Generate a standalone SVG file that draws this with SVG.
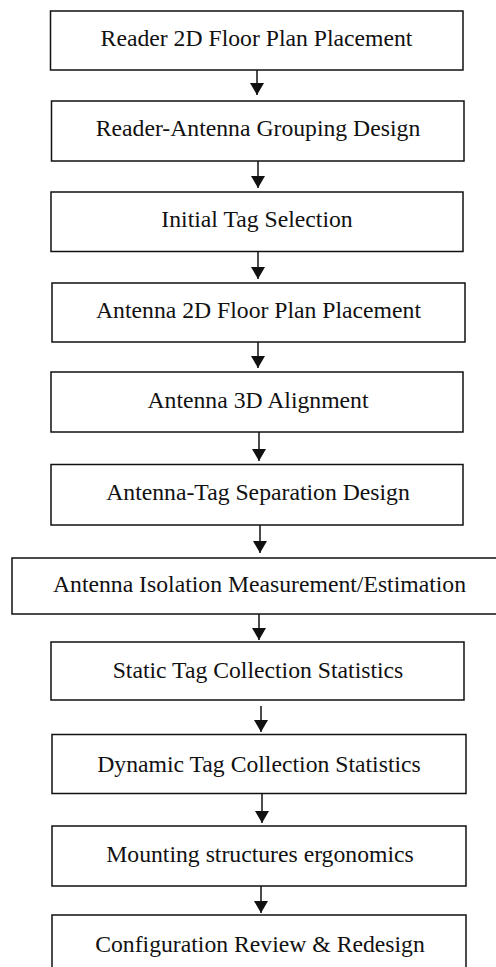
<svg xmlns="http://www.w3.org/2000/svg" width="496" height="967" viewBox="0 0 496 967">
<style>
.box{fill:#fff;stroke:#111;stroke-width:1.5}
.lbl{font-family:"Liberation Serif","Times New Roman",serif;font-size:23.7px;fill:#111;text-anchor:middle}
.conn{stroke:#111;stroke-width:1.5;fill:none}
</style>
<defs>
<marker id="ah" markerUnits="userSpaceOnUse" markerWidth="14" markerHeight="13" refX="7" refY="12" orient="auto-start-reverse" viewBox="0 0 14 13">
<path d="M0,0 L14,0 L7,12 Z" fill="#111"/>
</marker>
</defs>
<rect width="496" height="967" fill="#fff"/>
<g id="connectors">
<line class="conn" x1="257" y1="70" x2="257" y2="95"/><path d="M250,83 L264,83 L257,95 Z" fill="#111"/>
<line class="conn" x1="258" y1="161" x2="258" y2="188"/><path d="M251,176 L265,176 L258,188 Z" fill="#111"/>
<line class="conn" x1="258" y1="252" x2="258" y2="279"/><path d="M251,267 L265,267 L258,279 Z" fill="#111"/>
<line class="conn" x1="258" y1="342" x2="258" y2="368"/><path d="M251,356 L265,356 L258,368 Z" fill="#111"/>
<line class="conn" x1="259" y1="432" x2="259" y2="461"/><path d="M252,449 L266,449 L259,461 Z" fill="#111"/>
<line class="conn" x1="260" y1="525" x2="260" y2="553"/><path d="M253,541 L267,541 L260,553 Z" fill="#111"/>
<line class="conn" x1="259" y1="614" x2="259" y2="640"/><path d="M252,628 L266,628 L259,640 Z" fill="#111"/>
<line class="conn" x1="261" y1="706" x2="261" y2="732"/><path d="M254,720 L268,720 L261,732 Z" fill="#111"/>
<line class="conn" x1="262" y1="794" x2="262" y2="823"/><path d="M255,811 L269,811 L262,823 Z" fill="#111"/>
<line class="conn" x1="261" y1="886" x2="261" y2="913"/><path d="M254,901 L268,901 L261,913 Z" fill="#111"/>
</g>
<g id="n1"><rect class="box" x="50.5" y="11" width="412.5" height="59"/><text class="lbl" x="256.5" y="46">Reader 2D Floor Plan Placement</text></g>
<g id="n2"><rect class="box" x="51.5" y="101" width="412.5" height="60"/><text class="lbl" x="258" y="136">Reader-Antenna Grouping Design</text></g>
<g id="n3"><rect class="box" x="51" y="192" width="412" height="59.5"/><text class="lbl" x="257" y="227">Initial Tag Selection</text></g>
<g id="n4"><rect class="box" x="52" y="283" width="413" height="59"/><text class="lbl" x="258.5" y="318">Antenna 2D Floor Plan Placement</text></g>
<g id="n5"><rect class="box" x="51" y="372" width="412" height="60"/><text class="lbl" x="258" y="408">Antenna 3D Alignment</text></g>
<g id="n6"><rect class="box" x="51" y="464.5" width="412" height="60.5"/><text class="lbl" x="258" y="500">Antenna-Tag Separation Design</text></g>
<g id="n7"><rect class="box" x="12" y="558" width="492" height="56"/><text class="lbl" x="259.5" y="592">Antenna Isolation Measurement/Estimation</text></g>
<g id="n8"><rect class="box" x="51" y="642" width="413" height="58"/><text class="lbl" x="258" y="678">Static Tag Collection Statistics</text></g>
<g id="n9"><rect class="box" x="52" y="734.5" width="414" height="59"/><text class="lbl" x="259" y="772">Dynamic Tag Collection Statistics</text></g>
<g id="n10"><rect class="box" x="52" y="826" width="414" height="60"/><text class="lbl" x="260" y="862">Mounting structures ergonomics</text></g>
<g id="n11"><rect class="box" x="52" y="915" width="414" height="60"/><text class="lbl" x="260" y="952">Configuration Review &amp; Redesign</text></g>
</svg>
